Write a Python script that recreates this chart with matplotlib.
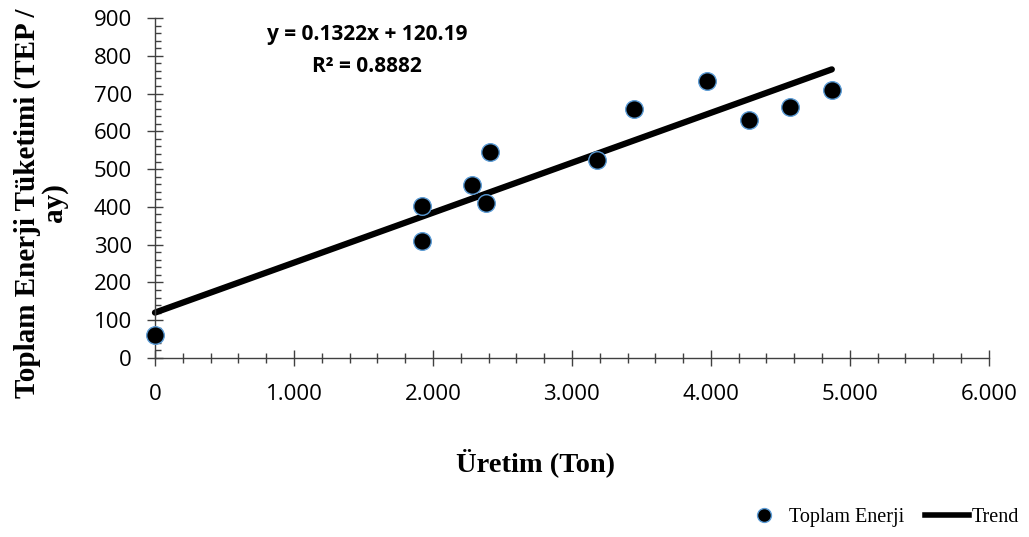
import matplotlib
matplotlib.use("Agg")
import matplotlib.pyplot as plt
from matplotlib.ticker import MultipleLocator, FuncFormatter
from matplotlib.lines import Line2D
import numpy as np

uretim = [0, 1921, 1921, 2281, 2381, 2410, 3180, 3446, 3971, 4273, 4568, 4870]
enerji = [60, 402, 310, 458, 410, 545, 524, 659, 733, 630, 664, 709]
slope = 0.1322
intercept = 120.19
r2 = 0.8882

fig = plt.figure(figsize=(10.29, 5.37), dpi=100)
ax = fig.add_axes([0.1506, 0.3333, 0.8104, 0.6332])

xs = np.array([min(uretim), max(uretim)])
ax.plot(xs, slope * xs + intercept, color='black', lw=4.5, solid_capstyle='round', zorder=2,
        clip_on=False)
ax.scatter(uretim, enerji, s=160, c='black', edgecolors='#5B9BD5', linewidths=1.0, zorder=3,
           clip_on=False)

ax.set_xlim(0, 6000)
ax.set_ylim(0, 900)
ax.xaxis.set_major_locator(MultipleLocator(1000))
ax.xaxis.set_minor_locator(MultipleLocator(200))
ax.yaxis.set_major_locator(MultipleLocator(100))
ax.yaxis.set_minor_locator(MultipleLocator(20))
ax.xaxis.set_major_formatter(FuncFormatter(lambda v, p: f"{int(v):,}".replace(",", ".")))

for s in ['top', 'right']:
    ax.spines[s].set_visible(False)
for s in ['left', 'bottom']:
    ax.spines[s].set_color('#404040')
    ax.spines[s].set_linewidth(1.0)

ax.tick_params(axis='x', which='major', direction='inout', length=11, width=1, color='#404040',
               labelsize=16, pad=13)
ax.tick_params(axis='x', which='minor', direction='inout', length=7, width=1, color='#404040')
ax.tick_params(axis='y', which='major', direction='inout', length=11, width=1, color='#404040',
               labelsize=16, pad=11)
ax.tick_params(axis='y', which='minor', direction='in', length=4, width=1, color='#404040')
for lab in ax.get_xticklabels() + ax.get_yticklabels():
    lab.set_fontfamily('Open Sans')

ax.set_xlabel('Üretim (Ton)', family='Liberation Serif', fontweight='bold', fontsize=20.5)
ax.xaxis.set_label_coords(0.456, -0.309)
ax.xaxis.label.set_va('center')
ax.set_ylabel('Toplam Enerji Tüketimi (TEP /\nay)', family='Liberation Serif', fontweight='bold',
              fontsize=21, linespacing=1.0)
ax.yaxis.set_label_coords(-0.137, 0.456)
ax.yaxis.label.set_va('center')

ax.text(0.254, 0.904, f'y = {slope}x + {intercept}\nR² = {r2}', transform=ax.transAxes,
        ha='center', va='center', fontsize=15, fontweight='bold', family='Open Sans', linespacing=1.7)

handles = [Line2D([], [], marker='o', ls='none', markersize=10, markerfacecolor='black',
                  markeredgecolor='#5B9BD5', markeredgewidth=1.0),
           Line2D([], [], color='black', lw=4)]
fig.legend(handles, ['Toplam Enerji', 'Trend'], loc='center', bbox_to_anchor=(0.856, 0.037), ncol=2,
           frameon=False, prop={'family': 'Liberation Serif', 'size': 14.5}, handlelength=2.2,
           columnspacing=1.0, handletextpad=0.15)

fig.savefig('out.png', dpi=100)
